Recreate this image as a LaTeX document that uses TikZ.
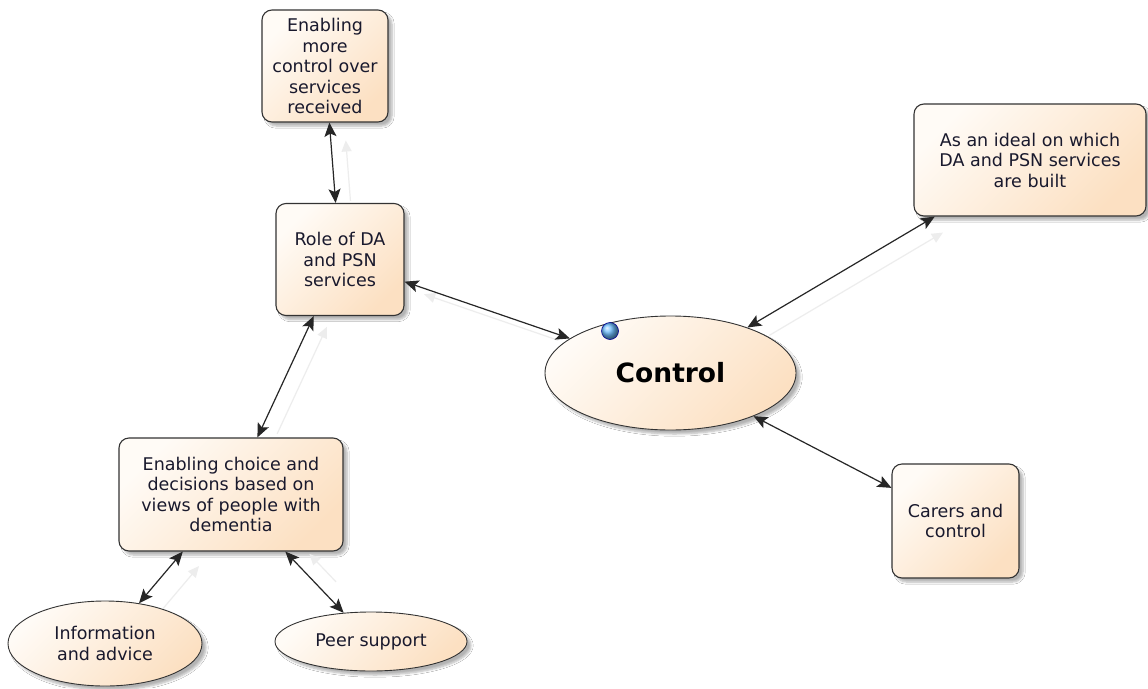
\documentclass[tikz,border=0pt]{standalone}
\usepackage{fontspec}
\setmainfont{DejaVu Sans}
\usetikzlibrary{shapes.geometric,arrows.meta,shadows.blur}
\definecolor{peach}{RGB}{252,224,194}
\definecolor{cream}{RGB}{255,251,246}
\definecolor{txt}{RGB}{25,25,45}
\definecolor{pinblue}{RGB}{110,190,255}
\begin{document}
\begin{tikzpicture}[x=1pt,y=-1pt,
  shadowed/.style={blur shadow={shadow xshift=4pt, shadow yshift=-4pt, shadow blur steps=6, shadow opacity=30}},
  box/.style={shadowed, draw=black!80, line width=1.1pt, rounded corners=10pt,
    top color=cream, bottom color=peach, shading angle=45,
    align=center, inner sep=0pt, text=txt, font=\fontsize{17.5}{20.5}\selectfont},
  oval/.style={shadowed, ellipse, draw=black!80, line width=0.9pt,
    top color=cream, bottom color=peach, shading angle=45,
    align=center, inner sep=0pt, text=txt, font=\fontsize{17.5}{20.5}\selectfont},
  link/.style={{Stealth[length=14pt,width=12pt,inset=3pt]}-{Stealth[length=14pt,width=12pt,inset=3pt]}, line width=1.2pt, black!85},
  ghost/.style={-{Triangle[length=11pt,width=10pt]}, line width=1.2pt, black!7}]
\fill[white] (0,0) rectangle (1148,688);
\useasboundingbox (0,0) rectangle (1148,688);

\node[box, minimum width=126pt, minimum height=112pt] (top) at (325,66) {Enabling\\more\\control over\\services\\received};
\node[box, minimum width=128pt, minimum height=112pt] (role) at (340,259.5) {Role of DA\\and PSN\\services};
\node[box, minimum width=232pt, minimum height=112pt] (ideal) at (1030,160) {As an ideal on which\\DA and PSN services\\are built};
\node[box, minimum width=224pt, minimum height=113pt] (choice) at (231,494.5) {Enabling choice and\\decisions based on\\views of people with\\dementia};
\node[box, minimum width=127pt, minimum height=114pt] (carers) at (955.5,521) {Carers and\\control};
\node[oval, minimum width=251pt, minimum height=114pt, font=\fontsize{26.5}{30}\selectfont\bfseries, text=black] (control) at (670.5,373) {Control};
\node[oval, minimum width=194pt, minimum height=85pt] (info) at (105,643.5) {Information\\and advice};
\node[oval, minimum width=192pt, minimum height=59pt] (peer) at (371,641.5) {Peer support};
\node[circle, minimum size=17pt, inner sep=0pt, ball color=pinblue, draw=blue!60!black, line width=0.6pt] (pin) at (610,331) {};

% faint ghost connectors
\draw[ghost, transform canvas={xshift=15pt}, shorten >=18pt, shorten <=2pt] (role) -- (top);
\draw[ghost, transform canvas={xshift=12pt,yshift=-10pt}, shorten >=8pt, shorten <=25pt] (control) -- (role);
\draw[ghost, transform canvas={xshift=15pt,yshift=-12pt}, shorten >=8pt, shorten <=8pt] (control) -- (ideal);
\draw[ghost, transform canvas={xshift=18pt}, shorten >=12pt, shorten <=4pt] (choice) -- (role);
\draw[ghost, transform canvas={xshift=20pt,yshift=-10pt}, shorten >=6pt, shorten <=6pt] (info) -- (choice);
\draw[ghost, transform canvas={xshift=20pt,yshift=2pt}, shorten >=6pt, shorten <=40pt] (peer) -- (choice);

% connectors
\draw[link] (top) -- (role);
\draw[link] (role) -- (control);
\draw[link] (role) -- (choice);
\draw[link] (control) -- (ideal);
\draw[link] (control) -- (carers);
\draw[link] (choice) -- (info);
\draw[link] (choice) -- (peer);
\end{tikzpicture}
\end{document}
